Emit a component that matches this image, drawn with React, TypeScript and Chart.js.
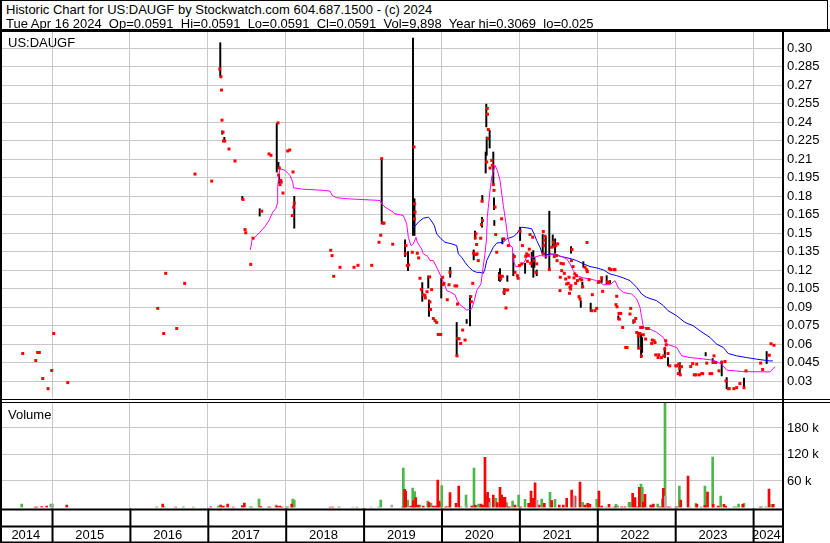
import React, { useEffect, useRef } from 'react';
import { Chart, registerables } from 'chart.js';

Chart.register(...registerables);

const FONT = '"Liberation Sans", Arial, Helvetica, sans-serif';

const HEADER_LINE_1 = 'Historic Chart for US:DAUGF by Stockwatch.com 604.687.1500 - (c) 2024';
const HEADER_LINE_2 = 'Tue Apr 16 2024  Op=0.0591  Hi=0.0591  Lo=0.0591  Cl=0.0591  Vol=9,898  Year hi=0.3069  lo=0.025';
const SYMBOL = 'US:DAUGF';
const VOLUME_TITLE = 'Volume';

const X_MIN = 2014.358;
const X_MAX = 2024.371;
const YEAR_LINES = [2015, 2016, 2017, 2018, 2019, 2020, 2021, 2022, 2023, 2024];
const YEAR_LABELS = ['2014', '2015', '2016', '2017', '2018', '2019', '2020', '2021', '2022', '2023', '2024'];

const PRICE_MIN = 0.0146;
const PRICE_MAX = 0.3138;
const PRICE_TICKS = [0.03, 0.045, 0.06, 0.075, 0.09, 0.105, 0.12, 0.135, 0.15, 0.165, 0.18, 0.195, 0.21, 0.225, 0.24, 0.255, 0.27, 0.285, 0.3];

const VOLUME_MAX = 236600;
const VOLUME_TICKS = [60000, 120000, 180000];

// [decimal year, close]
const closes: [number, number][] = [
  [2014.624, 0.0523], [2014.791, 0.0466], [2014.816, 0.0531], [2014.837, 0.0531], [2014.881, 0.032], [2014.949, 0.0238], [2014.996, 0.0385], [2015.022, 0.0685], [2015.202, 0.0287],
  [2016.357, 0.0889], [2016.434, 0.0685], [2016.46, 0.1173], [2016.601, 0.0726], [2016.703, 0.1092], [2016.836, 0.1978], [2017.05, 0.1921],
  [2017.153, 0.2829], [2017.169, 0.2767], [2017.176, 0.2659], [2017.182, 0.2415], [2017.195, 0.2317], [2017.201, 0.2246], [2017.217, 0.2246], [2017.272, 0.2181], [2017.349, 0.2084], [2017.452, 0.1772], [2017.478, 0.1528], [2017.487, 0.1502], [2017.551, 0.1246], [2017.58, 0.1458], [2017.692, 0.1677], [2017.786, 0.2141], [2017.811, 0.213], [2017.901, 0.2393], [2017.908, 0.197], [2017.918, 0.2027], [2017.927, 0.1892], [2017.936, 0.1927], [2017.942, 0.1913], [2017.965, 0.1824], [2018.026, 0.2165], [2018.051, 0.2173], [2018.085, 0.1642], [2018.094, 0.1995], [2018.102, 0.171], [2018.11, 0.1742],
  [2018.578, 0.136], [2018.595, 0.1317], [2018.616, 0.1149], [2018.697, 0.1222], [2018.877, 0.1222], [2018.928, 0.1238], [2019.104, 0.1238], [2019.198, 0.1425], [2019.22, 0.1482], [2019.232, 0.2103], [2019.245, 0.158], [2019.262, 0.158], [2019.374, 0.1409],
  [2019.535, 0.1331], [2019.544, 0.1398], [2019.561, 0.1236], [2019.579, 0.1241], [2019.625, 0.1344], [2019.647, 0.2198], [2019.653, 0.1615], [2019.656, 0.1737], [2019.66, 0.1669], [2019.689, 0.1336], [2019.707, 0.1298], [2019.724, 0.1133], [2019.741, 0.1043], [2019.766, 0.1], [2019.788, 0.0992], [2019.792, 0.0973], [2019.814, 0.1024], [2019.848, 0.1144], [2019.852, 0.0941], [2019.859, 0.088], [2019.874, 0.1041], [2019.895, 0.0807], [2019.917, 0.0789], [2019.938, 0.0775], [2019.959, 0.0677], [2019.99, 0.0677],
  [2020.015, 0.1141], [2020.019, 0.1081], [2020.032, 0.1092], [2020.074, 0.0959], [2020.096, 0.1081], [2020.109, 0.1181], [2020.173, 0.1071], [2020.195, 0.1071], [2020.199, 0.0504], [2020.205, 0.0924], [2020.208, 0.0645], [2020.225, 0.0642], [2020.246, 0.0604], [2020.272, 0.0713], [2020.302, 0.0632], [2020.375, 0.0984], [2020.383, 0.0943], [2020.401, 0.1092], [2020.413, 0.1336], [2020.434, 0.1461], [2020.443, 0.1493], [2020.445, 0.1325], [2020.451, 0.1407], [2020.456, 0.1331], [2020.472, 0.1276], [2020.503, 0.1458], [2020.513, 0.1569], [2020.52, 0.1759], [2020.526, 0.1602],
  [2020.58, 0.2076], [2020.588, 0.251], [2020.591, 0.2463], [2020.593, 0.2266], [2020.601, 0.2339], [2020.623, 0.2027], [2020.645, 0.2089], [2020.653, 0.2049], [2020.665, 0.1892], [2020.674, 0.1846], [2020.687, 0.171], [2020.696, 0.1488], [2020.709, 0.1344], [2020.742, 0.1154], [2020.76, 0.1127], [2020.772, 0.1615], [2020.781, 0.1149], [2020.799, 0.1453], [2020.802, 0.1018], [2020.815, 0.1038], [2020.828, 0.0892], [2020.85, 0.1038], [2020.858, 0.1398], [2020.935, 0.1309], [2020.944, 0.1181], [2020.974, 0.1154], [2020.983, 0.1133],
  [2021.0, 0.1236], [2021.009, 0.1515], [2021.03, 0.125], [2021.038, 0.1398], [2021.081, 0.1311], [2021.094, 0.1331], [2021.102, 0.1271], [2021.115, 0.132], [2021.127, 0.1369], [2021.136, 0.1488], [2021.145, 0.1254], [2021.171, 0.1466], [2021.188, 0.1276], [2021.213, 0.1181], [2021.222, 0.125], [2021.307, 0.1512], [2021.31, 0.1331], [2021.313, 0.1398], [2021.32, 0.1441], [2021.329, 0.1474], [2021.384, 0.1203], [2021.415, 0.1385], [2021.435, 0.1425], [2021.448, 0.1309], [2021.466, 0.1398], [2021.479, 0.1317], [2021.483, 0.1276], [2021.492, 0.1412], [2021.521, 0.1033], [2021.525, 0.1141], [2021.534, 0.1254], [2021.543, 0.1195], [2021.564, 0.125], [2021.576, 0.1173], [2021.594, 0.1127], [2021.607, 0.1087], [2021.628, 0.1092], [2021.637, 0.1141], [2021.643, 0.1011], [2021.65, 0.106], [2021.658, 0.1046], [2021.662, 0.1073], [2021.668, 0.1276], [2021.675, 0.1366], [2021.689, 0.1228], [2021.701, 0.1136], [2021.711, 0.1168], [2021.722, 0.1092], [2021.733, 0.1154], [2021.745, 0.1114], [2021.765, 0.0984], [2021.778, 0.0965], [2021.78, 0.1127], [2021.8, 0.1119], [2021.812, 0.1065], [2021.842, 0.1222], [2021.864, 0.1201], [2021.868, 0.1423], [2021.872, 0.1187], [2021.894, 0.1122], [2021.928, 0.087], [2021.936, 0.1], [2021.971, 0.087], [2021.992, 0.0889],
  [2022.013, 0.11], [2022.026, 0.1106], [2022.056, 0.1136], [2022.069, 0.1027], [2022.133, 0.1103], [2022.144, 0.11], [2022.154, 0.1211], [2022.172, 0.1203], [2022.214, 0.1203], [2022.227, 0.1203], [2022.24, 0.0919], [2022.249, 0.0987], [2022.253, 0.0902], [2022.279, 0.0848], [2022.283, 0.0802], [2022.301, 0.0848], [2022.326, 0.0734], [2022.365, 0.0572], [2022.382, 0.0572], [2022.42, 0.0843], [2022.429, 0.0889], [2022.475, 0.0783], [2022.493, 0.0807], [2022.506, 0.0694], [2022.527, 0.0667], [2022.536, 0.0567], [2022.548, 0.0685], [2022.557, 0.0734], [2022.566, 0.0502], [2022.578, 0.0734], [2022.591, 0.0675], [2022.621, 0.064], [2022.634, 0.0726], [2022.655, 0.0726], [2022.698, 0.0604], [2022.706, 0.0632], [2022.728, 0.0626], [2022.741, 0.0612], [2022.75, 0.0512], [2022.78, 0.049], [2022.789, 0.0512], [2022.823, 0.049], [2022.853, 0.0504], [2022.866, 0.0559], [2022.878, 0.0626], [2022.885, 0.0593], [2022.908, 0.0523], [2022.93, 0.0423],
  [2023.007, 0.0423], [2023.024, 0.0423], [2023.04, 0.036], [2023.046, 0.0437], [2023.058, 0.0401], [2023.065, 0.035], [2023.08, 0.0417], [2023.199, 0.0417], [2023.225, 0.0441], [2023.245, 0.035], [2023.267, 0.035], [2023.276, 0.0437], [2023.309, 0.035], [2023.34, 0.036], [2023.353, 0.036], [2023.405, 0.0445], [2023.447, 0.036], [2023.469, 0.036], [2023.49, 0.045], [2023.498, 0.0504], [2023.52, 0.045], [2023.562, 0.0382], [2023.597, 0.045], [2023.639, 0.0458], [2023.652, 0.0301], [2023.681, 0.0238], [2023.694, 0.0238], [2023.754, 0.0238], [2023.789, 0.0246], [2023.831, 0.0279], [2023.883, 0.0246], [2023.909, 0.0382],
  [2024.097, 0.0445], [2024.123, 0.0393], [2024.208, 0.0509], [2024.23, 0.0602], [2024.268, 0.059],
];

// [decimal year, low, high]
const ranges: [number, number, number][] = [
  [2017.16, 0.2772, 0.3043], [2017.186, 0.2301, 0.2328], [2017.212, 0.2244, 0.2276], [2017.443, 0.177, 0.1797], [2017.666, 0.1637, 0.1697], [2017.885, 0.1994, 0.2388], [2017.906, 0.2022, 0.2073], [2017.914, 0.1905, 0.1973], [2018.11, 0.1539, 0.1797],
  [2019.232, 0.1575, 0.2103], [2019.532, 0.1309, 0.1445], [2019.57, 0.1195, 0.135], [2019.634, 0.148, 0.3081], [2019.653, 0.148, 0.1778], [2019.753, 0.0946, 0.1098], [2019.83, 0.1054, 0.1152], [2019.839, 0.0824, 0.0957], [2019.997, 0.0973, 0.1133],
  [2020.112, 0.1141, 0.1222], [2020.195, 0.0504, 0.0775], [2020.323, 0.0767, 0.0799], [2020.366, 0.0746, 0.0992], [2020.413, 0.1282, 0.1363], [2020.43, 0.145, 0.1515], [2020.52, 0.1547, 0.1628], [2020.524, 0.175, 0.1805], [2020.567, 0.1986, 0.2157], [2020.575, 0.236, 0.2545], [2020.58, 0.213, 0.2279], [2020.618, 0.2189, 0.2333], [2020.665, 0.1892, 0.2157], [2020.674, 0.1689, 0.1786], [2020.678, 0.1561, 0.1602], [2020.738, 0.1114, 0.1181], [2020.751, 0.1108, 0.1211], [2020.781, 0.1412, 0.1458], [2020.806, 0.1, 0.1051], [2020.845, 0.1108, 0.1154], [2020.922, 0.1154, 0.1331],
  [2021.009, 0.1439, 0.1547], [2021.073, 0.1173, 0.1254], [2021.158, 0.1222, 0.1344], [2021.179, 0.1141, 0.1358], [2021.192, 0.1222, 0.1303], [2021.222, 0.1154, 0.12], [2021.299, 0.1325, 0.1488], [2021.338, 0.1295, 0.1471], [2021.384, 0.1195, 0.1677], [2021.428, 0.1385, 0.1485], [2021.458, 0.1336, 0.1453], [2021.663, 0.1336, 0.139], [2021.788, 0.0897, 0.0951], [2021.808, 0.1054, 0.11], [2021.821, 0.1222, 0.1268], [2021.915, 0.0864, 0.0932],
  [2022.056, 0.11, 0.1146], [2022.12, 0.1087, 0.1154], [2022.163, 0.1092, 0.1114], [2022.27, 0.0797, 0.0829], [2022.463, 0.0767, 0.0797], [2022.527, 0.0559, 0.0694], [2022.562, 0.049, 0.0681], [2022.575, 0.0531, 0.0653], [2022.866, 0.049, 0.0572], [2022.908, 0.0423, 0.049],
  [2023.058, 0.0355, 0.045], [2023.391, 0.0504, 0.0531], [2023.481, 0.0441, 0.0482], [2023.597, 0.0341, 0.0463], [2023.661, 0.0238, 0.0328], [2023.883, 0.0246, 0.0323], [2024.174, 0.0441, 0.0539],
];

// short moving average (magenta)
const maShort: [number, number][] = [
  [2017.546, 0.1363], [2017.567, 0.1439], [2017.606, 0.1466], [2017.67, 0.1507], [2017.734, 0.1553], [2017.786, 0.1602], [2017.833, 0.1669], [2017.872, 0.1697], [2017.892, 0.1737], [2017.897, 0.1873], [2017.914, 0.1981], [2017.927, 0.2022], [2017.991, 0.2008], [2018.055, 0.1967], [2018.09, 0.1913], [2018.1, 0.1867], [2018.205, 0.1856], [2018.483, 0.1846], [2018.569, 0.184], [2018.598, 0.1805], [2018.655, 0.1786], [2018.783, 0.1778], [2019.018, 0.177], [2019.211, 0.1764], [2019.232, 0.1737], [2019.275, 0.171], [2019.361, 0.1677], [2019.403, 0.1656], [2019.51, 0.1642], [2019.553, 0.1575], [2019.574, 0.1466], [2019.608, 0.1398], [2019.638, 0.1412], [2019.673, 0.1466], [2019.689, 0.1425], [2019.745, 0.1371], [2019.766, 0.1331], [2019.823, 0.1311], [2019.852, 0.1276], [2019.895, 0.1276], [2019.959, 0.1195], [2020.045, 0.1073], [2020.067, 0.1033], [2020.118, 0.1019], [2020.173, 0.1], [2020.203, 0.0951], [2020.237, 0.0919], [2020.323, 0.0876], [2020.387, 0.0884], [2020.421, 0.0951], [2020.451, 0.1033], [2020.507, 0.1087], [2020.528, 0.1195], [2020.558, 0.1331], [2020.58, 0.1466], [2020.588, 0.1628], [2020.623, 0.1846], [2020.645, 0.1954], [2020.687, 0.2049], [2020.717, 0.2008], [2020.751, 0.1927], [2020.793, 0.1724], [2020.828, 0.1575], [2020.85, 0.1466], [2020.879, 0.1398], [2020.909, 0.1385], [2020.922, 0.1276], [2020.952, 0.1228], [2020.999, 0.1228], [2021.038, 0.1244], [2021.073, 0.1276], [2021.094, 0.1309], [2021.188, 0.1303], [2021.264, 0.1317], [2021.35, 0.1311], [2021.435, 0.1331], [2021.543, 0.1309], [2021.607, 0.129], [2021.65, 0.125], [2021.692, 0.1195], [2021.735, 0.1154], [2021.821, 0.1136], [2021.907, 0.1127], [2021.992, 0.1114], [2022.078, 0.1081], [2022.163, 0.1081], [2022.227, 0.1114], [2022.27, 0.1054], [2022.334, 0.1018], [2022.442, 0.1005], [2022.506, 0.0965], [2022.548, 0.0897], [2022.57, 0.0815], [2022.591, 0.0734], [2022.677, 0.0721], [2022.763, 0.0694], [2022.848, 0.0653], [2022.891, 0.0599], [2023.019, 0.0572], [2023.084, 0.0504], [2023.19, 0.049], [2023.276, 0.0485], [2023.49, 0.0469], [2023.597, 0.0437], [2023.661, 0.0388], [2023.874, 0.0376], [2024.216, 0.0374], [2024.28, 0.0415],
];

// long moving average (blue)
const maLong: [number, number][] = [
  [2019.638, 0.1539], [2019.702, 0.1588], [2019.766, 0.162], [2019.83, 0.1628], [2019.852, 0.1615], [2019.908, 0.1561], [2019.938, 0.1493], [2019.994, 0.1453], [2020.045, 0.1425], [2020.131, 0.1412], [2020.195, 0.1398], [2020.216, 0.1331], [2020.259, 0.1303], [2020.302, 0.1262], [2020.344, 0.1228], [2020.401, 0.1195], [2020.452, 0.1181], [2020.494, 0.1181], [2020.537, 0.1173], [2020.558, 0.1209], [2020.58, 0.1276], [2020.623, 0.1331], [2020.665, 0.1385], [2020.709, 0.1418], [2020.793, 0.1425], [2020.837, 0.1453], [2020.922, 0.1471], [2020.965, 0.1493], [2020.999, 0.1526], [2021.03, 0.1547], [2021.094, 0.1542], [2021.158, 0.1534], [2021.188, 0.1493], [2021.222, 0.1439], [2021.264, 0.1385], [2021.294, 0.1331], [2021.35, 0.1323], [2021.393, 0.1331], [2021.479, 0.1325], [2021.521, 0.1311], [2021.585, 0.1303], [2021.671, 0.129], [2021.735, 0.1276], [2021.821, 0.125], [2021.907, 0.1228], [2021.992, 0.1217], [2022.078, 0.1201], [2022.163, 0.1168], [2022.249, 0.1154], [2022.334, 0.1136], [2022.42, 0.1114], [2022.506, 0.1059], [2022.57, 0.1005], [2022.634, 0.0978], [2022.763, 0.0951], [2022.848, 0.0911], [2022.908, 0.087], [2023.019, 0.0829], [2023.125, 0.0775], [2023.232, 0.0748], [2023.318, 0.0707], [2023.447, 0.0653], [2023.532, 0.0599], [2023.617, 0.0572], [2023.681, 0.0523], [2023.789, 0.0504], [2023.917, 0.049], [2024.045, 0.0477], [2024.216, 0.0463], [2024.254, 0.0463],
];

// volume on up days (green)
const volUp: [number, number][] = [
  [2014.611, 7900], [2014.987, 7900], [2016.344, 1500], [2016.442, 1500], [2016.686, 1500], [2016.814, 1000], [2017.135, 3400], [2017.542, 1500], [2017.564, 1500], [2017.657, 19200], [2017.777, 1500], [2017.876, 5700], [2018.013, 1500], [2018.033, 1500], [2018.09, 19200], [2018.11, 17000], [2018.684, 1500], [2018.911, 1200], [2019.189, 1200], [2019.22, 17000], [2019.51, 89400], [2019.566, 17000], [2019.63, 44100], [2019.656, 35800], [2019.724, 5700], [2019.823, 14700], [2019.865, 9500], [2019.99, 9500], [2020.003, 49400], [2020.08, 1800], [2020.25, 1500], [2020.315, 28300], [2020.417, 89400], [2020.451, 4500], [2020.477, 7900], [2020.571, 28300], [2020.699, 20800], [2020.836, 10900], [2020.913, 14700], [2020.99, 28300], [2021.072, 18600], [2021.286, 19200], [2021.393, 34400], [2021.457, 18600], [2021.812, 11800], [2021.884, 9500], [2021.992, 18600], [2022.111, 1000], [2022.24, 7200], [2022.262, 3400], [2022.407, 11800], [2022.42, 11800], [2022.561, 53200], [2022.578, 45700], [2022.775, 7900], [2022.835, 19200], [2022.869, 262000], [2023.053, 48700], [2023.267, 9500], [2023.327, 1200], [2023.382, 48700], [2023.481, 114300], [2023.584, 26000], [2023.754, 1500], [2023.78, 1500], [2023.814, 7900], [2023.883, 9500], [2024.11, 1500], [2024.165, 1500], [2024.238, 7200],
];

// volume on down days (red)
const volDown: [number, number][] = [
  [2014.782, 1200], [2014.804, 1200], [2014.868, 2000], [2014.932, 3400], [2015.189, 5700], [2016.421, 7900], [2016.588, 1000], [2017.037, 1500], [2017.165, 5700], [2017.199, 3400], [2017.255, 7900], [2017.327, 1200], [2017.443, 4100], [2017.469, 10200], [2017.679, 1800], [2017.798, 1200], [2017.892, 3400], [2017.927, 3400], [2017.953, 1200], [2018.077, 7900], [2018.569, 1200], [2018.603, 1200], [2019.502, 1200], [2019.527, 41200], [2019.54, 37400], [2019.604, 3400], [2019.638, 15400], [2019.669, 22200], [2019.702, 5700], [2019.766, 3400], [2019.839, 11800], [2019.895, 3400], [2019.926, 3400], [2019.952, 62300], [2019.968, 14700], [2020.054, 1500], [2020.109, 33500], [2020.186, 9500], [2020.221, 48700], [2020.388, 3400], [2020.43, 5700], [2020.507, 7900], [2020.528, 5700], [2020.558, 113700], [2020.592, 34400], [2020.609, 20800], [2020.665, 28300], [2020.716, 10900], [2020.751, 45700], [2020.772, 28300], [2020.793, 23100], [2020.815, 23100], [2020.858, 1500], [2020.879, 1200], [2020.944, 5700], [2021.017, 1500], [2021.119, 9500], [2021.149, 37400], [2021.179, 20800], [2021.201, 56100], [2021.252, 5700], [2021.32, 9500], [2021.414, 15400], [2021.512, 5700], [2021.563, 5700], [2021.607, 20800], [2021.671, 39600], [2021.714, 26000], [2021.778, 57700], [2021.842, 5700], [2021.876, 9500], [2021.905, 7200], [2022.021, 37400], [2022.056, 3400], [2022.15, 7200], [2022.227, 1500], [2022.313, 1500], [2022.356, 1500], [2022.454, 32100], [2022.484, 22200], [2022.519, 1500], [2022.54, 45700], [2022.591, 12500], [2022.612, 29900], [2022.686, 5700], [2022.72, 7900], [2022.805, 1500], [2022.848, 43500], [2022.905, 1500], [2022.934, 1000], [2023.019, 1500], [2023.071, 17000], [2023.165, 71300], [2023.278, 7200], [2023.38, 5000], [2023.415, 35100], [2023.488, 7200], [2023.552, 3400], [2023.626, 7200], [2023.648, 3400], [2023.867, 7200], [2024.089, 1200], [2024.204, 41900], [2024.259, 7200],
];

// volume on unchanged days (grey)
const volFlat: [number, number][] = [
  [2015.009, 7900], [2018.86, 1200], [2019.095, 1200], [2019.361, 5700], [2020.324, 3400], [2020.622, 10900], [2021.226, 17000], [2021.701, 26000], [2021.95, 1200], [2022.205, 1200], [2022.634, 1200], [2022.873, 26000], [2023.001, 1200], [2023.19, 1500], [2023.34, 1200],
];

const GRID = '#c8c8c8';

const fmtPrice = (v: number) => {
  let s = v.toFixed(3);
  if (s.endsWith('0')) s = s.slice(0, -1);
  return s;
};

const yearLabelValues = () => {
  const bounds = [X_MIN, ...YEAR_LINES, X_MAX];
  return bounds.slice(0, -1).map((b, i) => (b + bounds[i + 1]) / 2 - 0.015);
};

const zeroPadding = (s: any) => {
  s.paddingLeft = 0;
  s.paddingRight = 0;
  s.paddingTop = 0;
  s.paddingBottom = 0;
};

const bottomFrame = {
  id: 'bottomFrame',
  afterDraw(chart: any) {
    const { ctx, chartArea, scales } = chart;
    const xs = scales.x;
    const right = chartArea.right + 1;
    const y0 = chartArea.bottom + 1;
    ctx.save();
    ctx.fillStyle = '#000';
    ctx.fillRect(0, y0, right, 2);
    ctx.fillRect(0, y0 + 17, right, 2);
    ctx.fillRect(0, chart.height - 1.5, right, 1.5);
    for (const yr of YEAR_LINES) {
      const px = xs.getPixelForValue(yr);
      ctx.fillRect(px - 0.5, y0, 2, chart.height - y0);
    }
    ctx.restore();
  },
};

export default function App() {
  const priceRef = useRef<HTMLCanvasElement>(null);
  const volRef = useRef<HTMLCanvasElement>(null);

  useEffect(() => {
    const xGrid = () => ({
      type: 'linear' as const,
      min: X_MIN,
      max: X_MAX,
      offset: false,
      afterBuildTicks: (s: any) => {
        s.ticks = YEAR_LINES.map((v) => ({ value: v }));
      },
      ticks: { display: false },
      grid: { color: GRID, lineWidth: 1, drawTicks: false, offset: false },
      border: { display: false },
      afterFit: (s: any) => {
        s.height = 0;
        zeroPadding(s);
      },
    });

    const priceChart = new Chart(priceRef.current!, {
      type: 'bar',
      data: {
        datasets: [
          {
            type: 'scatter',
            data: closes.map(([x, y]) => ({ x, y })),
            pointStyle: 'rect',
            pointRadius: 2.12,
            pointBorderWidth: 0,
            pointBackgroundColor: '#ff0000',
            backgroundColor: '#ff0000',
          } as any,
          {
            type: 'line',
            data: maShort.map(([x, y]) => ({ x, y })),
            borderColor: '#ff00ff',
            borderWidth: 1,
            pointRadius: 0,
            tension: 0,
            fill: false,
          },
          {
            type: 'line',
            data: maLong.map(([x, y]) => ({ x, y })),
            borderColor: '#0000ff',
            borderWidth: 1,
            pointRadius: 0,
            tension: 0,
            fill: false,
          },
          {
            type: 'bar',
            data: ranges.map(([x, lo, hi]) => ({ x, y: [lo, hi] })),
            backgroundColor: '#000000',
            barThickness: 1.3,
            grouped: false,
          } as any,
        ],
      },
      options: {
        animation: false,
        responsive: false,
        maintainAspectRatio: false,
        events: [],
        layout: { autoPadding: false, padding: { left: 2, right: 0, top: 0, bottom: 0 } },
        plugins: { legend: { display: false }, tooltip: { enabled: false }, title: { display: false } },
        scales: {
          x: xGrid() as any,
          y: {
            type: 'linear',
            position: 'right',
            min: PRICE_MIN,
            max: PRICE_MAX,
            afterBuildTicks: (s: any) => {
              s.ticks = PRICE_TICKS.map((v) => ({ value: v }));
            },
            ticks: {
              callback: (v: any) => fmtPrice(Number(v)),
              color: '#000',
              font: { family: FONT, size: 13 },
              padding: 5,
            },
            grid: { color: GRID, lineWidth: 1, drawTicks: false },
            border: { display: false },
            afterFit: (s: any) => {
              s.width = 48;
              zeroPadding(s);
            },
          } as any,
        },
      },
    });

    const volChart = new Chart(volRef.current!, {
      type: 'bar',
      data: {
        datasets: [
          {
            data: volFlat.map(([x, y]) => ({ x, y })),
            backgroundColor: '#aaaaaa',
            barThickness: 2,
            grouped: false,
          } as any,
          {
            data: volDown.map(([x, y]) => ({ x, y })),
            backgroundColor: '#ff0000',
            barThickness: 2,
            grouped: false,
          } as any,
          {
            data: volUp.map(([x, y]) => ({ x, y })),
            backgroundColor: '#4cb84c',
            barThickness: 2,
            grouped: false,
          } as any,
        ],
      },
      options: {
        animation: false,
        responsive: false,
        maintainAspectRatio: false,
        events: [],
        layout: { autoPadding: false, padding: { left: 2, right: 0, top: 0, bottom: 0 } },
        plugins: { legend: { display: false }, tooltip: { enabled: false }, title: { display: false } },
        scales: {
          x: xGrid() as any,
          x2: {
            type: 'linear',
            position: 'bottom',
            min: X_MIN,
            max: X_MAX,
            offset: false,
            afterBuildTicks: (s: any) => {
              s.ticks = yearLabelValues().map((v) => ({ value: v }));
            },
            ticks: {
              callback: (_v: any, i: number) => YEAR_LABELS[i],
              color: '#000',
              font: { family: FONT, size: 13 },
              padding: 20,
              autoSkip: false,
              maxRotation: 0,
              minRotation: 0,
            },
            grid: { display: false, drawTicks: false },
            border: { display: false },
            afterFit: (s: any) => {
              s.height = 35.5;
              zeroPadding(s);
            },
          } as any,
          y: {
            type: 'linear',
            position: 'right',
            min: 0,
            max: VOLUME_MAX,
            afterBuildTicks: (s: any) => {
              s.ticks = VOLUME_TICKS.map((v) => ({ value: v }));
            },
            ticks: {
              callback: (v: any) => `${Math.round(Number(v) / 1000)} k`,
              color: '#000',
              font: { family: FONT, size: 13 },
              padding: 5,
            },
            grid: { color: GRID, lineWidth: 1, drawTicks: false },
            border: { display: false },
            afterFit: (s: any) => {
              s.width = 48;
              zeroPadding(s);
            },
          } as any,
        },
      },
      plugins: [bottomFrame],
    });

    return () => {
      priceChart.destroy();
      volChart.destroy();
    };
  }, []);

  const black = '#000';
  const textStyle: React.CSSProperties = {
    position: 'absolute',
    fontFamily: FONT,
    fontSize: 13,
    lineHeight: '15px',
    whiteSpace: 'pre',
    color: black,
  };

  return (
    <div style={{ position: 'absolute', left: 0, top: 0, width: 830, height: 543, background: '#fff', overflow: 'hidden' }}>
      <canvas ref={priceRef} width={830} height={369} style={{ position: 'absolute', left: 0, top: 31, width: 830, height: 369 }} />
      <canvas ref={volRef} width={830} height={140} style={{ position: 'absolute', left: 0, top: 403, width: 830, height: 140 }} />

      {/* header frame */}
      <div style={{ position: 'absolute', left: 0, top: 0, width: 828, height: 1, background: black }} />
      <div style={{ position: 'absolute', left: 827, top: 0, width: 1, height: 31, background: black }} />
      <div style={{ position: 'absolute', left: 0, top: 29, width: 830, height: 3, background: black }} />
      {/* panel separator (double line) */}
      <div style={{ position: 'absolute', left: 0, top: 399, width: 830, height: 1, background: black }} />
      <div style={{ position: 'absolute', left: 0, top: 402, width: 830, height: 1, background: black }} />
      {/* side borders */}
      <div style={{ position: 'absolute', left: 0, top: 0, width: 2, height: 543, background: black }} />
      <div style={{ position: 'absolute', left: 782, top: 31, width: 2, height: 512, background: black }} />

      <div style={{ ...textStyle, left: 6, top: 1.5 }}>{HEADER_LINE_1}</div>
      <div style={{ ...textStyle, left: 6, top: 16 }}>{HEADER_LINE_2}</div>
      <div style={{ ...textStyle, left: 8, top: 35 }}>{SYMBOL}</div>
      <div style={{ ...textStyle, left: 8, top: 407 }}>{VOLUME_TITLE}</div>
    </div>
  );
}
